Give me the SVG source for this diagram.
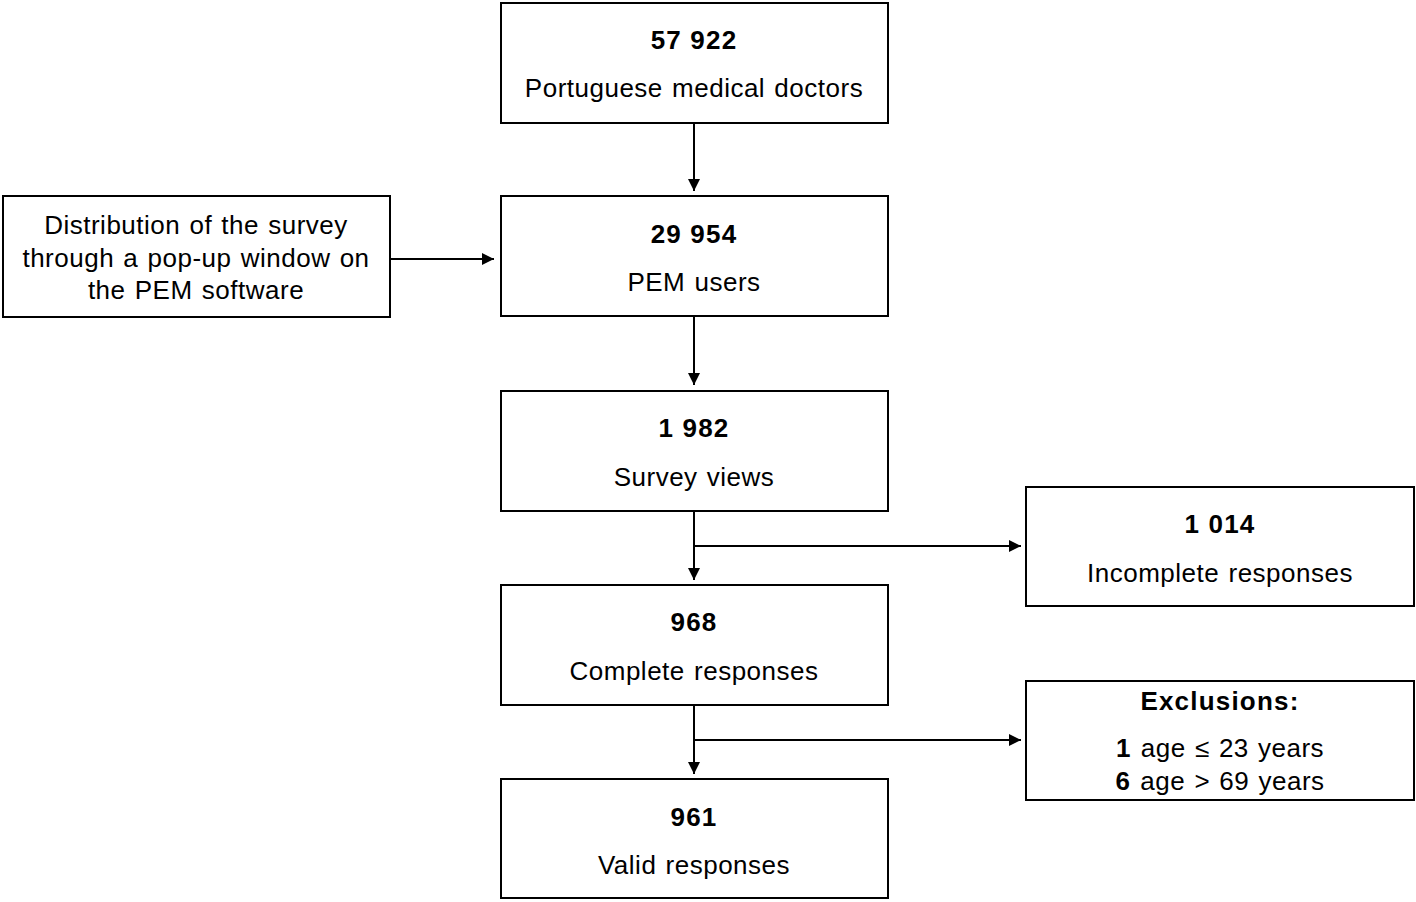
<svg xmlns="http://www.w3.org/2000/svg" width="1416" height="902" viewBox="0 0 1416 902">
<defs>
<marker id="ah" markerWidth="14" markerHeight="14" refX="12" refY="6" orient="auto" markerUnits="userSpaceOnUse">
<path d="M0,0 L12,6 L0,12 Z" fill="#000"/>
</marker>
<style>
.box{fill:#fff;stroke:#000;stroke-width:2}
.t{font-family:"Liberation Sans",Arial,sans-serif;font-size:26px;text-anchor:middle;fill:#000;letter-spacing:0.5px;word-spacing:1.5px}
.b{font-weight:bold;letter-spacing:1.2px;word-spacing:0px}
.c{stroke:#000;stroke-width:2;fill:none}
</style>
</defs>
<rect width="1416" height="902" fill="#fff"/>
<g id="connectors">
<line class="c" x1="694" y1="123" x2="694" y2="191" marker-end="url(#ah)"/>
<line class="c" x1="390" y1="259" x2="494" y2="259" marker-end="url(#ah)"/>
<line class="c" x1="694" y1="316" x2="694" y2="385" marker-end="url(#ah)"/>
<line class="c" x1="694" y1="511" x2="694" y2="580" marker-end="url(#ah)"/>
<line class="c" x1="694" y1="546" x2="1021" y2="546" marker-end="url(#ah)"/>
<line class="c" x1="694" y1="705" x2="694" y2="774" marker-end="url(#ah)"/>
<line class="c" x1="694" y1="740" x2="1021" y2="740" marker-end="url(#ah)"/>
</g>
<g id="n1">
<rect class="box" x="501" y="3" width="387" height="120"/>
<text class="t b" x="694" y="49">57 922</text>
<text class="t" x="694" y="97">Portuguese medical doctors</text>
</g>
<g id="n2">
<rect class="box" x="501" y="196" width="387" height="120"/>
<text class="t b" x="694" y="243">29 954</text>
<text class="t" x="694" y="291">PEM users</text>
</g>
<g id="n0">
<rect class="box" x="3" y="196" width="387" height="121"/>
<text class="t" x="196" y="234">Distribution of the survey</text>
<text class="t" x="196" y="267">through a pop-up window on</text>
<text class="t" x="196" y="299">the PEM software</text>
</g>
<g id="n3">
<rect class="box" x="501" y="391" width="387" height="120"/>
<text class="t b" x="694" y="437">1 982</text>
<text class="t" x="694" y="486">Survey views</text>
</g>
<g id="n4">
<rect class="box" x="501" y="585" width="387" height="120"/>
<text class="t b" x="694" y="631">968</text>
<text class="t" x="694" y="680">Complete responses</text>
</g>
<g id="n5">
<rect class="box" x="501" y="779" width="387" height="119"/>
<text class="t b" x="694" y="826">961</text>
<text class="t" x="694" y="874">Valid responses</text>
</g>
<g id="r1">
<rect class="box" x="1026" y="487" width="388" height="119"/>
<text class="t b" x="1220" y="533">1 014</text>
<text class="t" x="1220" y="582">Incomplete responses</text>
</g>
<g id="r2">
<rect class="box" x="1026" y="681" width="388" height="119"/>
<text class="t b" x="1220" y="710">Exclusions:</text>
<text class="t" x="1220" y="757"><tspan class="b">1</tspan> age ≤ 23 years</text>
<text class="t" x="1220" y="790"><tspan class="b">6</tspan> age &gt; 69 years</text>
</g>
</svg>
